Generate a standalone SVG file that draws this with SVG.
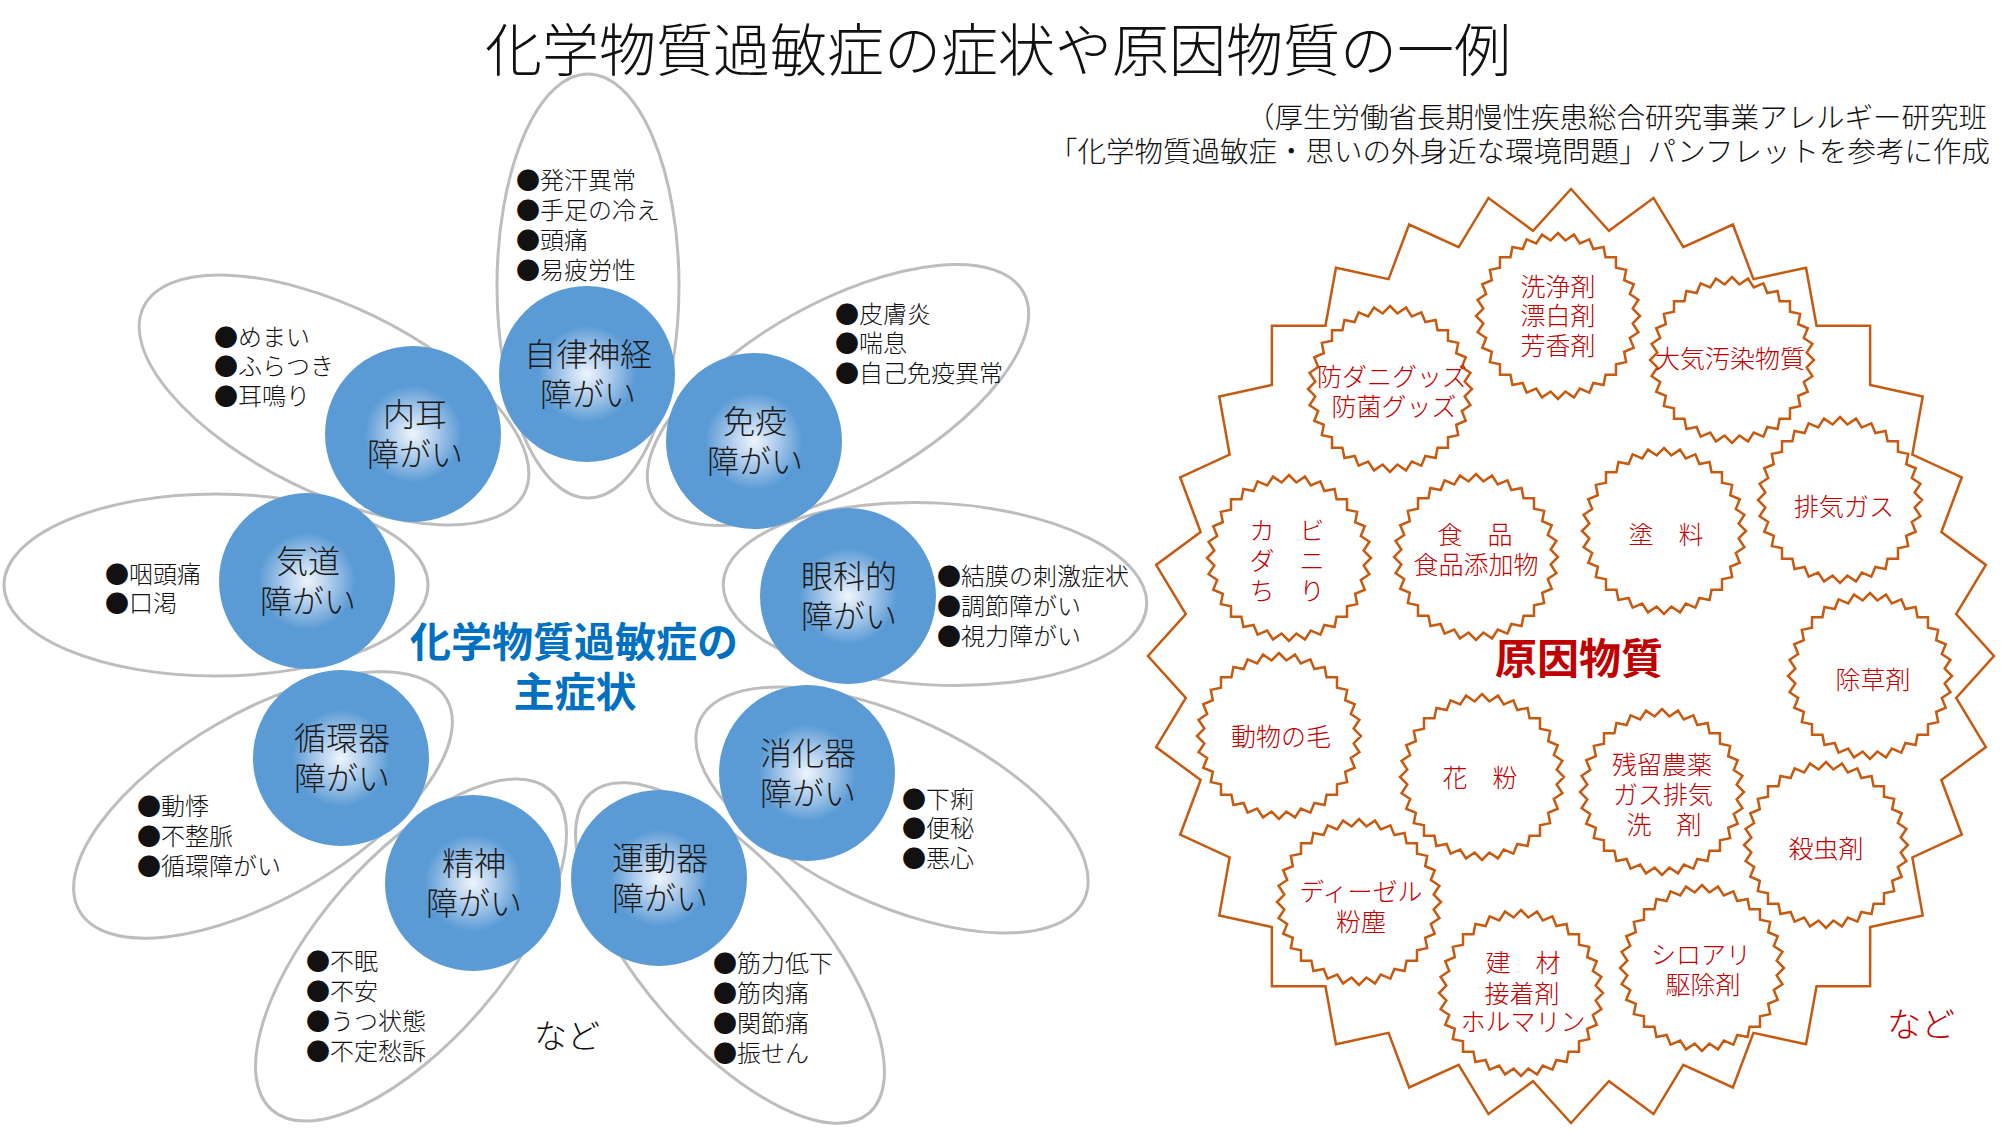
<svg xmlns="http://www.w3.org/2000/svg" xmlns:xlink="http://www.w3.org/1999/xlink" width="2004" height="1132" viewBox="0 0 2004 1132">
<defs>
<radialGradient id="gb" cx="50%" cy="50%" r="50%">
<stop offset="0" stop-color="#eef5fc"/>
<stop offset="0.22" stop-color="#b9d3ee"/>
<stop offset="0.55" stop-color="#5b9bd5"/>
<stop offset="1" stop-color="#5b9bd5"/>
</radialGradient>
<polygon id="star" vector-effect="non-scaling-stroke" points="0,-100 8.97,-91.06 19.51,-98.08 26.56,-87.56 38.27,-92.39 43.13,-80.7 55.56,-83.15 58.05,-70.73 70.71,-70.71 70.73,-58.05 83.15,-55.56 80.7,-43.13 92.39,-38.27 87.56,-26.56 98.08,-19.51 91.06,-8.97 100,0 91.06,8.97 98.08,19.51 87.56,26.56 92.39,38.27 80.7,43.13 83.15,55.56 70.73,58.05 70.71,70.71 58.05,70.73 55.56,83.15 43.13,80.7 38.27,92.39 26.56,87.56 19.51,98.08 8.97,91.06 0,100 -8.97,91.06 -19.51,98.08 -26.56,87.56 -38.27,92.39 -43.13,80.7 -55.56,83.15 -58.05,70.73 -70.71,70.71 -70.73,58.05 -83.15,55.56 -80.7,43.13 -92.39,38.27 -87.56,26.56 -98.08,19.51 -91.06,8.97 -100,0 -91.06,-8.97 -98.08,-19.51 -87.56,-26.56 -92.39,-38.27 -80.7,-43.13 -83.15,-55.56 -70.73,-58.05 -70.71,-70.71 -58.05,-70.73 -55.56,-83.15 -43.13,-80.7 -38.27,-92.39 -26.56,-87.56 -19.51,-98.08 -8.97,-91.06"/>
</defs>
<style>
text{font-family:"Noto Sans CJK JP","Noto Sans",sans-serif;}
.title{font-size:57px;font-weight:300;fill:#111;}
.sub{font-size:28.5px;font-weight:300;fill:#111;}
.petal{fill:none;stroke:#bdbdbd;stroke-width:3;}
.circ{fill:url(#gb);}
.cl{font-size:32px;font-weight:300;fill:#1a1a1a;text-anchor:middle;}
.sym{font-size:24px;font-weight:300;fill:#111;}
.center{font-size:41px;font-weight:700;fill:#0070c0;text-anchor:middle;}
.nado{font-size:33px;font-weight:300;fill:#111;text-anchor:middle;}
.st{fill:none;stroke:#c55a11;stroke-width:2.5;}
.rt{font-size:25px;font-weight:300;fill:#c00000;text-anchor:middle;}
.cause{font-size:42px;font-weight:700;fill:#c00000;text-anchor:middle;}
.rnado{font-size:34px;font-weight:300;fill:#c00000;text-anchor:middle;}
</style>
<rect width="2004" height="1132" fill="#ffffff"/>
<g id="title">
<text class="title" x="998" y="71" text-anchor="middle">化学物質過敏症の症状や原因物質の一例</text>
<text class="sub" x="1987" y="128" text-anchor="end">（厚生労働省長期慢性疾患総合研究事業アレルギー研究班</text>
<text class="sub" x="1990" y="162" text-anchor="end">「化学物質過敏症・思いの外身近な環境問題」パンフレットを参考に作成</text>
</g>
<g id="petals">
<ellipse class="petal" rx="212" ry="91" transform="translate(588,286) rotate(90)"/>
<ellipse class="petal" rx="212" ry="92" transform="translate(838,395) rotate(-29)"/>
<ellipse class="petal" rx="212" ry="91" transform="translate(935,594) rotate(3)"/>
<ellipse class="petal" rx="212" ry="93" transform="translate(892,810) rotate(25)"/>
<ellipse class="petal" rx="212" ry="89" transform="translate(730,953) rotate(49)"/>
<ellipse class="petal" rx="212" ry="92" transform="translate(411,950) rotate(-49)"/>
<ellipse class="petal" rx="212" ry="93" transform="translate(263,805) rotate(-30)"/>
<ellipse class="petal" rx="212" ry="91" transform="translate(216,585) rotate(0)"/>
<ellipse class="petal" rx="212" ry="93" transform="translate(334,400) rotate(26)"/>
</g>
<g id="connectors"></g>
<g id="node-jiritsu">
<circle class="circ" cx="587" cy="374" r="88"/>
<text class="cl" x="588" y="366">自律神経</text>
<text class="cl" x="588" y="406">障がい</text>
<text class="sym" x="516" y="189">●発汗異常</text>
<text class="sym" x="516" y="219">●手足の冷え</text>
<text class="sym" x="516" y="249">●頭痛</text>
<text class="sym" x="516" y="279">●易疲労性</text>
</g>
<g id="node-men-eki">
<circle class="circ" cx="754" cy="441" r="88"/>
<text class="cl" x="755" y="433">免疫</text>
<text class="cl" x="755" y="473">障がい</text>
<text class="sym" x="835" y="323">●皮膚炎</text>
<text class="sym" x="835" y="352">●喘息</text>
<text class="sym" x="835" y="382">●自己免疫異常</text>
</g>
<g id="node-ganka">
<circle class="circ" cx="848" cy="596" r="88"/>
<text class="cl" x="849" y="588">眼科的</text>
<text class="cl" x="849" y="628">障がい</text>
<text class="sym" x="937" y="585">●結膜の刺激症状</text>
<text class="sym" x="937" y="615">●調節障がい</text>
<text class="sym" x="937" y="645">●視力障がい</text>
</g>
<g id="node-shoka">
<circle class="circ" cx="807" cy="773" r="88"/>
<text class="cl" x="808" y="765">消化器</text>
<text class="cl" x="808" y="805">障がい</text>
<text class="sym" x="902" y="808">●下痢</text>
<text class="sym" x="902" y="837">●便秘</text>
<text class="sym" x="902" y="867">●悪心</text>
</g>
<g id="node-undo">
<circle class="circ" cx="659" cy="878" r="88"/>
<text class="cl" x="660" y="870">運動器</text>
<text class="cl" x="660" y="910">障がい</text>
<text class="sym" x="713" y="972">●筋力低下</text>
<text class="sym" x="713" y="1002">●筋肉痛</text>
<text class="sym" x="713" y="1032">●関節痛</text>
<text class="sym" x="713" y="1062">●振せん</text>
</g>
<g id="node-seishin">
<circle class="circ" cx="473" cy="883" r="88"/>
<text class="cl" x="474" y="875">精神</text>
<text class="cl" x="474" y="915">障がい</text>
<text class="sym" x="306" y="970">●不眠</text>
<text class="sym" x="306" y="1000">●不安</text>
<text class="sym" x="306" y="1030">●うつ状態</text>
<text class="sym" x="306" y="1060">●不定愁訴</text>
</g>
<g id="node-junkan">
<circle class="circ" cx="341" cy="758" r="88"/>
<text class="cl" x="342" y="750">循環器</text>
<text class="cl" x="342" y="790">障がい</text>
<text class="sym" x="137" y="815">●動悸</text>
<text class="sym" x="137" y="845">●不整脈</text>
<text class="sym" x="137" y="875">●循環障がい</text>
</g>
<g id="node-kido">
<circle class="circ" cx="307" cy="581" r="88"/>
<text class="cl" x="308" y="573">気道</text>
<text class="cl" x="308" y="613">障がい</text>
<text class="sym" x="105" y="583">●咽頭痛</text>
<text class="sym" x="105" y="612">●口渇</text>
</g>
<g id="node-naiji">
<circle class="circ" cx="413" cy="434" r="88"/>
<text class="cl" x="415" y="426">内耳</text>
<text class="cl" x="415" y="466">障がい</text>
<text class="sym" x="214" y="346">●めまい</text>
<text class="sym" x="214" y="375">●ふらつき</text>
<text class="sym" x="214" y="405">●耳鳴り</text>
</g>
<g id="center-label">
<text class="center" x="574" y="657">化学物質過敏症の</text>
<text class="center" x="575" y="707">主症状</text>
<text class="nado" x="567" y="1048">など</text>
</g>
<g id="causes">
<use xlink:href="#star" class="st" transform="translate(1571,656) scale(4.23,4.67)"/>
<text class="cause" x="1579" y="674">原因物質</text>
<text class="rnado" x="1921" y="1037">など</text>
</g>
<g id="c-senjo"><use xlink:href="#star" class="st" transform="translate(1558,316) scale(0.82,0.83)"/>
<text class="rt" x="1558" y="296">洗浄剤</text><text class="rt" x="1558" y="325">漂白剤</text><text class="rt" x="1558" y="355">芳香剤</text></g>
<g id="c-taiki"><use xlink:href="#star" class="st" transform="translate(1732,360) scale(0.82,0.83)"/>
<text class="rt" x="1730" y="368">大気汚染物質</text></g>
<g id="c-bodani"><use xlink:href="#star" class="st" transform="translate(1390,389) scale(0.82,0.83)"/>
<text class="rt" x="1392" y="386">防ダニグッズ</text><text class="rt" x="1394" y="416">防菌グッズ</text></g>
<g id="c-haiki"><use xlink:href="#star" class="st" transform="translate(1840,500) scale(0.82,0.83)"/>
<text class="rt" x="1844" y="516">排気ガス</text></g>
<g id="c-kabi"><use xlink:href="#star" class="st" transform="translate(1289,558) scale(0.82,0.83)"/>
<text class="rt" x="1287" y="540">カ　ビ</text><text class="rt" x="1287" y="570">ダ　ニ</text><text class="rt" x="1287" y="600">ち　り</text></g>
<g id="c-shokuhin"><use xlink:href="#star" class="st" transform="translate(1476,557) scale(0.82,0.83)"/>
<text class="rt" x="1475" y="544">食　品</text><text class="rt" x="1476" y="574">食品添加物</text></g>
<g id="c-toryo"><use xlink:href="#star" class="st" transform="translate(1664,531) scale(0.82,0.83)"/>
<text class="rt" x="1666" y="544">塗　料</text></g>
<g id="c-josozai"><use xlink:href="#star" class="st" transform="translate(1870,676) scale(0.82,0.83)"/>
<text class="rt" x="1873" y="689">除草剤</text></g>
<g id="c-dobutsu"><use xlink:href="#star" class="st" transform="translate(1279,736) scale(0.82,0.83)"/>
<text class="rt" x="1281" y="746">動物の毛</text></g>
<g id="c-kafun"><use xlink:href="#star" class="st" transform="translate(1482,777) scale(0.82,0.83)"/>
<text class="rt" x="1480" y="787">花　粉</text></g>
<g id="c-noyaku"><use xlink:href="#star" class="st" transform="translate(1662,792) scale(0.82,0.83)"/>
<text class="rt" x="1662" y="774">残留農薬</text><text class="rt" x="1663" y="804">ガス排気</text><text class="rt" x="1664" y="834">洗　剤</text></g>
<g id="c-satchu"><use xlink:href="#star" class="st" transform="translate(1826,845) scale(0.82,0.83)"/>
<text class="rt" x="1826" y="858">殺虫剤</text></g>
<g id="c-diesel"><use xlink:href="#star" class="st" transform="translate(1359,902) scale(0.82,0.83)"/>
<text class="rt" x="1361" y="901">ディーゼル</text><text class="rt" x="1361" y="931">粉塵</text></g>
<g id="c-kenzai"><use xlink:href="#star" class="st" transform="translate(1521,993) scale(0.82,0.83)"/>
<text class="rt" x="1523" y="972">建　材</text><text class="rt" x="1522" y="1003">接着剤</text><text class="rt" x="1523" y="1031">ホルマリン</text></g>
<g id="c-shiroari"><use xlink:href="#star" class="st" transform="translate(1702,968) scale(0.82,0.83)"/>
<text class="rt" x="1701" y="964">シロアリ</text><text class="rt" x="1703" y="994">駆除剤</text></g>
</svg>
